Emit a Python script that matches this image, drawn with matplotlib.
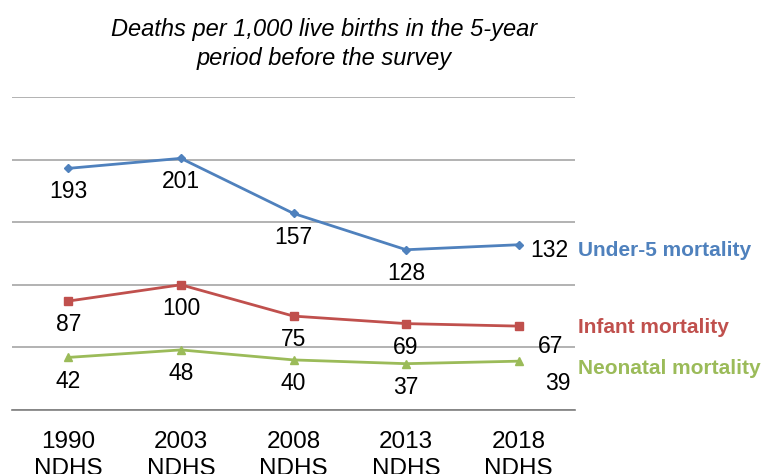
import matplotlib.pyplot as plt

# dados
surveys = ['1990\nNDHS', '2003\nNDHS', '2008\nNDHS', '2013\nNDHS', '2018\nNDHS']
under5 = [193, 201, 157, 128, 132]
infant = [87, 100, 75, 69, 67]
neonatal = [42, 48, 40, 37, 39]
series_names = ['Under-5 mortality', 'Infant mortality', 'Neonatal mortality']

plt.rcParams['font.family'] = ['Liberation Sans', 'DejaVu Sans']

fig = plt.figure(figsize=(7.63, 4.74), dpi=100)
ax = fig.add_axes([12 / 763, 1 - 410 / 474, (575 - 12) / 763, (410 - 97) / 474])

colors = ['#4F81BD', '#C0504D', '#9BBB59']
markers = ['D', 's', '^']
msizes = [4.5, 6, 6]
x = list(range(len(surveys)))

for vals, c, m, ms in zip([under5, infant, neonatal], colors, markers, msizes):
    ax.plot(x, vals, color=c, lw=2, marker=m, ms=ms, zorder=3)

# rótulos dos valores (abaixo dos pontos, exceto 2018)
for vals in [under5, infant, neonatal]:
    for i, v in enumerate(vals[:-1]):
        ax.annotate(str(v), (i, v), xytext=(0, -17), textcoords='offset points',
                    ha='center', va='center', fontsize=16.5)

ax.annotate(str(under5[-1]), (4, under5[-1]), xytext=(8, -4), textcoords='offset points',
            ha='left', va='center', fontsize=16.5)
ax.annotate(str(infant[-1]), (4, infant[-1]), xytext=(14, -15), textcoords='offset points',
            ha='left', va='center', fontsize=16.5)
ax.annotate(str(neonatal[-1]), (4, neonatal[-1]), xytext=(19, -16), textcoords='offset points',
            ha='left', va='center', fontsize=16.5)

# nomes das séries à direita
name_y = [under5[-1], infant[-1], neonatal[-1]]
name_dy = [-4, -1, -5]
for name, c, yv, dy in zip(series_names, colors, name_y, name_dy):
    ax.annotate(name, (4.5, yv), xytext=(2, dy), textcoords='offset points',
                ha='left', va='center', fontsize=15, fontweight='bold', color=c,
                annotation_clip=False)

ax.set_xlim(-0.5, 4.5)
ax.set_ylim(0, 250)
ax.set_yticks([0, 50, 100, 150, 200, 250])
ax.yaxis.grid(True, color='#A6A6A6', lw=1.2)
ax.set_axisbelow(True)
ax.set_yticklabels([])
ax.tick_params(axis='y', length=0)
ax.tick_params(axis='x', length=0, pad=15, labelsize=17.5)
ax.set_xticks(x)
ax.set_xticklabels(surveys, linespacing=1.3)
for s in ['left', 'right', 'top']:
    ax.spines[s].set_visible(False)
ax.spines['bottom'].set_color('#7F7F7F')
ax.spines['bottom'].set_linewidth(1.2)

fig.text(324 / 763, 1 - 44 / 474, 'Deaths per 1,000 live births in the 5-year\nperiod before the survey',
         ha='center', va='center', fontsize=17, style='italic', linespacing=1.3)

fig.savefig('out.png', dpi=100)
